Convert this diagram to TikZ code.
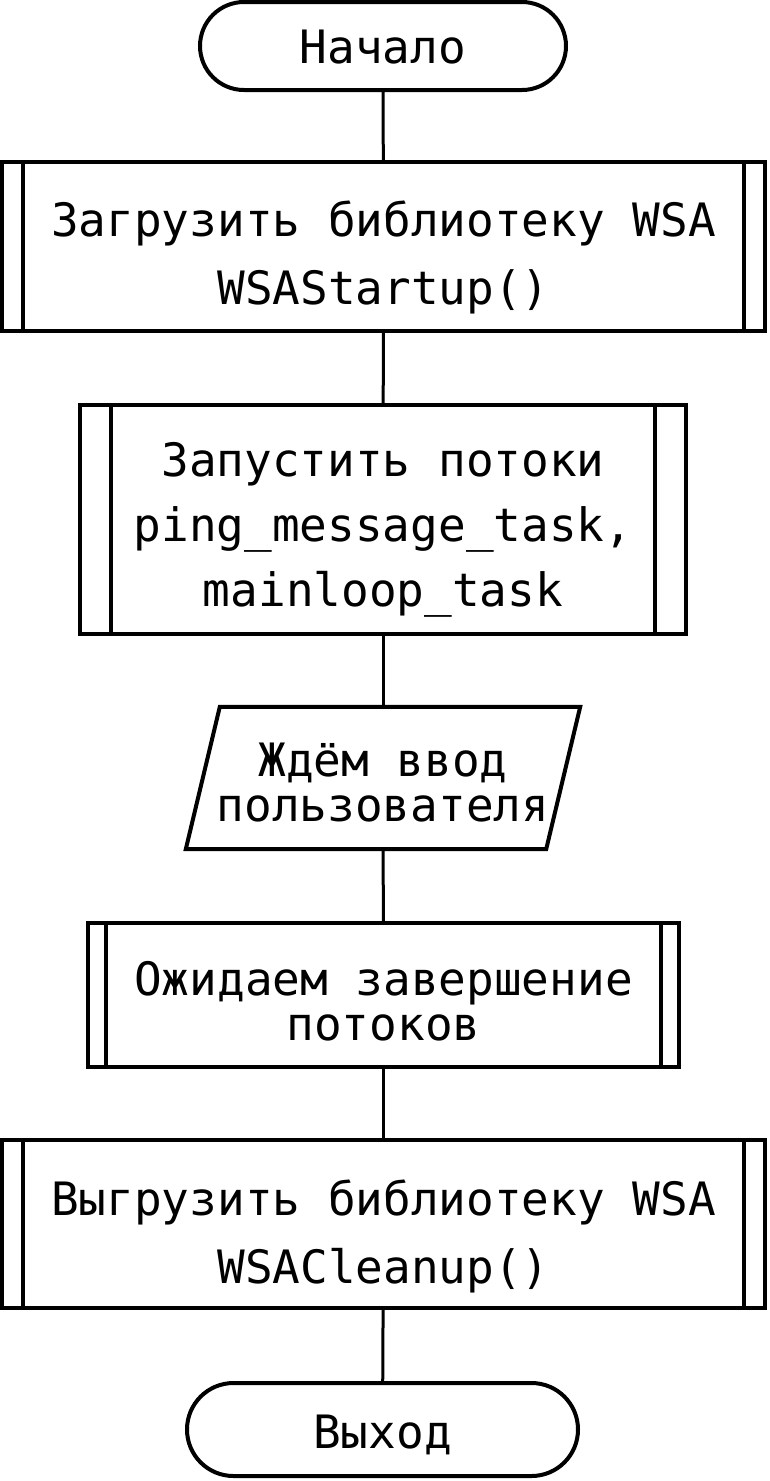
\documentclass[tikz,border=0pt]{standalone}
\usepackage{fontspec}
\usepackage{tikz}
\usetikzlibrary{shapes.misc}
\newfontfamily\flowfont{DejaVu Sans Mono}
\tikzset{
  terminal/.style={rounded rectangle, draw=black, line width=4pt, inner sep=0pt},
  subproc/.style={rectangle, draw=black, line width=4pt, inner sep=0pt},
  io/.style={rectangle, inner sep=0pt},
  txt/.style={align=center, inner sep=0pt, font=\flowfont\fontsize{46}{#1}\selectfont},
  txt/.default=68,
  flow/.style={line width=3pt, draw=black}
}

\begin{document}
\begin{tikzpicture}[x=1pt,y=-1pt]
  \useasboundingbox[fill=white] (0,0) rectangle (769,1481);
  % terminals and blocks, top to bottom
  \node[terminal, minimum width=366, minimum height=88] (start) at (383,46) {};
  \node[subproc, minimum width=763, minimum height=169] (load) at (383.5,246.5) {};
  \node[subproc, minimum width=606, minimum height=229] (threads) at (383,519.5) {};
  \node[io, minimum width=360, minimum height=142] (input) at (383,778) {};
  \node[subproc, minimum width=591, minimum height=144] (wait) at (383.5,995) {};
  \node[subproc, minimum width=763, minimum height=168] (unload) at (383.5,1224) {};
  \node[terminal, minimum width=391, minimum height=93] (exit) at (382.5,1429.5) {};
  % slanted sides of the input block
  \draw[line width=4pt, line join=miter]
    ([xshift=17pt]input.north west) -- ([xshift=17pt]input.north east)
    -- ([xshift=-17pt]input.south east) -- ([xshift=-17pt]input.south west) -- cycle;
  % texts
  \node[txt] (start-t) at ([yshift=-1pt]start) {Начало};
  \node[txt=68] (load-t) at ([yshift=-11pt]load) {Загрузить библиотеку WSA\\WSAStartup()};
  \node[txt=65] (threads-t) at ([yshift=-10pt]threads)
    {Запустить потоки\\ping\_message\_task,\\mainloop\_task};
  \node[txt=45] (input-t) at ([yshift=-5pt]input) {Ждём ввод\\пользователя};
  \node[txt=45] (wait-t) at ([yshift=-6pt]wait) {Ожидаем завершение\\потоков};
  \node[txt=68] (unload-t) at ([yshift=-12pt]unload) {Выгрузить библиотеку WSA\\WSACleanup()};
  \node[txt] (exit-t) at ([yshift=-5pt]exit) {Выход};
  % inner side bars of the subprocess blocks
  \foreach \n/\d in {load/23,threads/33,wait/20,unload/23} {
    \draw[line width=4pt] ([xshift=\d pt]\n.north west) -- ([xshift=\d pt]\n.south west);
    \draw[line width=4pt] ([xshift=-\d pt]\n.north east) -- ([xshift=-\d pt]\n.south east);
  }
  % connectors
  \draw[flow] (start) -- (load);
  \draw[flow] (load) -- (threads);
  \draw[flow] (threads) -- (input);
  \draw[flow] (input) -- (wait);
  \draw[flow] (wait) -- (unload);
  \draw[flow] (unload) -- (exit);
\end{tikzpicture}
\end{document}
